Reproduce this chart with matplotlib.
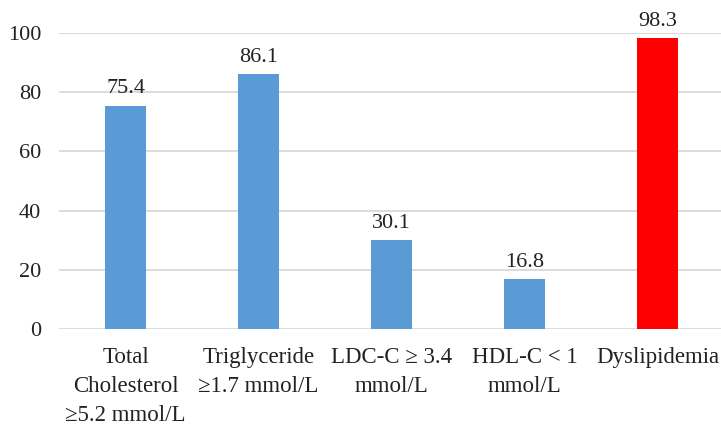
import matplotlib.pyplot as plt

categories = ["Total\nCholesterol\n≥5.2 mmol/L", "Triglyceride\n≥1.7 mmol/L",
              "LDC-C ≥ 3.4\nmmol/L", "HDL-C < 1\nmmol/L", "Dyslipidemia"]
values = [75.4, 86.1, 30.1, 16.8, 98.3]
colors = ["#5b9bd5", "#5b9bd5", "#5b9bd5", "#5b9bd5", "#ff0000"]

plt.rcParams['font.family'] = ['Liberation Serif', 'DejaVu Serif']

fig = plt.figure(figsize=(7.21, 4.28), dpi=100)
ax = fig.add_axes([0.082, 0.231, 0.922, 0.692])

x = range(len(categories))
bars = ax.bar(x, values, width=0.31, color=colors, zorder=3)
for b, v in zip(bars, values):
    ax.text(b.get_x() + b.get_width() / 2, v + 2.5, f"{v:.1f}",
            ha='center', va='bottom', fontsize=16, color='#222222')

ax.set_xlim(-0.5, len(categories) - 0.5)
ax.set_ylim(0, 100)
ax.set_yticks(range(0, 101, 20))
ax.yaxis.grid(True, color='#d9d9d9', linewidth=1.3, zorder=0)
ax.set_axisbelow(True)
for s in ax.spines.values():
    s.set_visible(False)
ax.tick_params(length=0, labelsize=16, labelcolor='#222222')
ax.tick_params(axis='y', pad=13)
ax.tick_params(axis='x', labelsize=16.5, pad=13)
ax.set_xticks(list(x))
ax.set_xticklabels(categories, linespacing=1.5)

fig.savefig("out.png", dpi=100)
